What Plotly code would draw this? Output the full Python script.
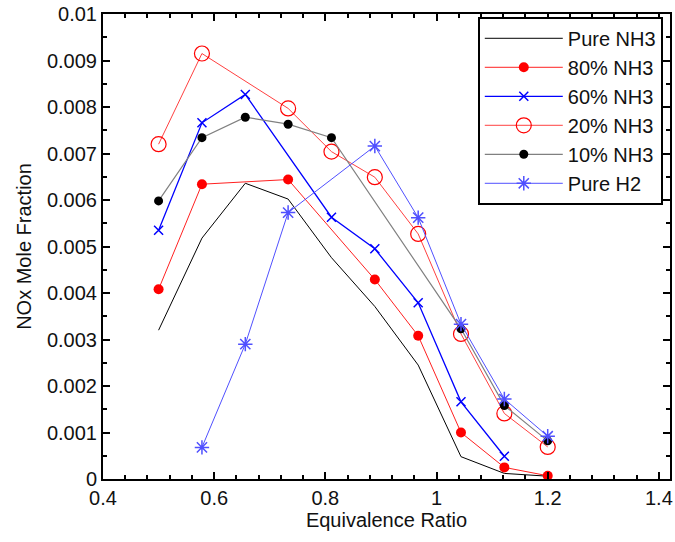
import plotly.graph_objects as go

# Equivalence ratio grid
phi = [0.5, 0.578, 0.656, 0.733, 0.811, 0.889, 0.967, 1.044, 1.122, 1.2]

pure_nh3_x = phi
pure_nh3_y = [0.00320, 0.00518, 0.00636, 0.00602, 0.00476, 0.00371, 0.00245, 0.00048, 0.00012, 0.00006]

nh3_80_x = [0.5, 0.578, 0.733, 0.889, 0.967, 1.044, 1.122, 1.2]
nh3_80_y = [0.00408, 0.00634, 0.00644, 0.00429, 0.00308, 0.00100, 0.00025, 0.00007]

nh3_60_x = [0.5, 0.578, 0.656, 0.811, 0.889, 0.967, 1.044, 1.122]
nh3_60_y = [0.00535, 0.00766, 0.00827, 0.00563, 0.00495, 0.00379, 0.00166, 0.00049]

nh3_20_x = [0.5, 0.578, 0.733, 0.811, 0.889, 0.967, 1.044, 1.122, 1.2]
nh3_20_y = [0.00720, 0.00915, 0.00797, 0.00704, 0.00649, 0.00527, 0.00312, 0.00141, 0.00069]

nh3_10_x = [0.5, 0.578, 0.656, 0.733, 0.811, 1.044, 1.122, 1.2]
nh3_10_y = [0.00598, 0.00734, 0.00778, 0.00763, 0.00734, 0.00323, 0.00158, 0.00082]

h2_x = [0.578, 0.656, 0.733, 0.889, 0.967, 1.044, 1.122, 1.2]
h2_y = [0.00068, 0.00290, 0.00573, 0.00716, 0.00562, 0.00333, 0.00172, 0.00092]

x_ticks = [0.4, 0.6, 0.8, 1.0, 1.2, 1.4]
x_tick_labels = ["0.4", "0.6", "0.8", "1", "1.2", "1.4"]
y_ticks = [0, 0.001, 0.002, 0.003, 0.004, 0.005, 0.006, 0.007, 0.008, 0.009, 0.01]
y_tick_labels = ["0", "0.001", "0.002", "0.003", "0.004", "0.005", "0.006",
                 "0.007", "0.008", "0.009", "0.01"]

FONT = "Liberation Sans, Arial, sans-serif"

fig = go.Figure()
fig.add_trace(go.Scatter(x=pure_nh3_x, y=pure_nh3_y, name="Pure NH3", mode="lines",
                         line=dict(color="black", width=1)))
fig.add_trace(go.Scatter(x=nh3_80_x, y=nh3_80_y, name="80% NH3", mode="lines+markers",
                         line=dict(color="#ff2020", width=1),
                         marker=dict(symbol="circle", size=10, color="#ff0000")))
fig.add_trace(go.Scatter(x=nh3_60_x, y=nh3_60_y, name="60% NH3", mode="lines+markers",
                         line=dict(color="#0000ff", width=1.3),
                         marker=dict(symbol="x-thin-open", size=9,
                                     line=dict(color="#0000ff", width=1.5))))
fig.add_trace(go.Scatter(x=nh3_20_x, y=nh3_20_y, name="20% NH3", mode="lines+markers",
                         line=dict(color="#ff4040", width=1),
                         marker=dict(symbol="circle-open", size=15, color="#ff0000",
                                     line=dict(color="#ff0000", width=1.2))))
fig.add_trace(go.Scatter(x=nh3_10_x, y=nh3_10_y, name="10% NH3", mode="lines+markers",
                         line=dict(color="#808080", width=1.2),
                         marker=dict(symbol="circle", size=9, color="black")))
fig.add_trace(go.Scatter(x=h2_x, y=h2_y, name="Pure H2", mode="lines+markers",
                         line=dict(color="#5050ff", width=1),
                         marker=dict(symbol="asterisk-open", size=12,
                                     line=dict(color="#0000ff", width=1.5))))

axis_common = dict(showline=True, linecolor="black", linewidth=2, mirror="ticks",
                   ticks="inside", ticklen=7, tickwidth=2, tickcolor="black",
                   showgrid=False, zeroline=False,
                   tickfont=dict(family=FONT, size=20, color="#111"))

fig.update_xaxes(range=[0.4, 1.42], tickvals=x_ticks, ticktext=x_tick_labels,
                 minor=dict(dtick=0.04, tick0=0.4, ticks="inside", ticklen=4,
                            tickwidth=1.5, tickcolor="black"),
                 title=dict(text="Equivalence Ratio", standoff=4,
                            font=dict(family=FONT, size=20, color="#111")),
                 **axis_common)
fig.update_yaxes(range=[0, 0.01], tickvals=y_ticks, ticktext=y_tick_labels,
                 minor=dict(dtick=0.0005, tick0=0, ticks="inside", ticklen=4,
                            tickwidth=1.5, tickcolor="black"),
                 title=dict(text="NOx Mole Fraction", standoff=10,
                            font=dict(family=FONT, size=20, color="#111")),
                 **axis_common)

fig.update_layout(
    width=675, height=542,
    margin=dict(l=103, r=5, t=14, b=63, autoexpand=False),
    paper_bgcolor="white", plot_bgcolor="white",
    showlegend=True,
    legend=dict(x=0.661, y=0.994, xanchor="left", yanchor="top",
                bgcolor="white", bordercolor="black", borderwidth=2,
                font=dict(family=FONT, size=20, color="#111"),
                itemwidth=78, tracegroupgap=0),
)

# Remove the default 8px page margin so the figure fills the window exactly.
fig.write_html("out.html", config={"displayModeBar": False},
               post_script="document.body.style.margin='0';")
